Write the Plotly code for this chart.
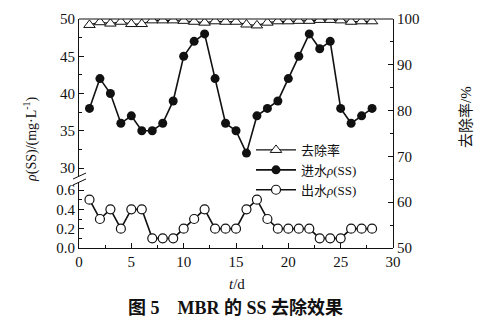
import plotly.graph_objects as go

# Day index
days = list(range(1, 29))

# Influent SS concentration (mg/L)
influent_ss = [38, 42, 40, 36, 37, 35, 35, 36, 39, 45, 47, 48, 42, 36,
               35, 32, 37, 38, 39, 42, 45, 48, 46, 47, 38, 36, 37, 38]

# Effluent SS concentration (mg/L)
effluent_ss = [0.5, 0.3, 0.4, 0.2, 0.4, 0.4, 0.1, 0.1, 0.1, 0.2, 0.3, 0.4, 0.2, 0.2,
               0.2, 0.4, 0.5, 0.3, 0.2, 0.2, 0.2, 0.2, 0.1, 0.1, 0.1, 0.2, 0.2, 0.2]

# SS removal rate (%)
removal_rate = [98.7, 99.3, 99.0, 99.4, 98.9, 98.9, 99.7, 99.7, 99.7, 99.6, 99.4, 99.2, 99.5, 99.4,
                99.4, 98.8, 98.6, 99.2, 99.5, 99.5, 99.6, 99.6, 99.8, 99.8, 99.7, 99.4, 99.5, 99.5]

W, H = 499, 323
L, R, T, B = 79, 106, 19, 75
PW, PH = W - L - R, H - T - B


def px(xp):
    return (xp - L) / PW


def py(yp):
    return (H - B - yp) / PH


SERIF = "Liberation Serif, Noto Sans CJK SC"
BLACK = "#111111"

fig = go.Figure()

fig.add_trace(go.Scatter(
    x=days, y=removal_rate, xaxis="x", yaxis="y3", name="去除率",
    mode="lines+markers",
    line=dict(color=BLACK, width=1.2),
    marker=dict(symbol="triangle-up", size=10, color="white",
                line=dict(color=BLACK, width=1)),
))
fig.add_trace(go.Scatter(
    x=days, y=influent_ss, xaxis="x", yaxis="y", name="进水<i>ρ</i>(SS)",
    mode="lines+markers",
    line=dict(color=BLACK, width=1.6),
    marker=dict(symbol="circle", size=9, color=BLACK),
))
fig.add_trace(go.Scatter(
    x=days, y=effluent_ss, xaxis="x", yaxis="y2", name="出水<i>ρ</i>(SS)",
    mode="lines+markers",
    line=dict(color=BLACK, width=1.6),
    marker=dict(symbol="circle", size=9, color="white",
                line=dict(color=BLACK, width=1.2)),
))

tickfont = dict(family=SERIF, size=15, color=BLACK)
axis_common = dict(
    showgrid=False, zeroline=False, showline=True, linecolor=BLACK, linewidth=1,
    ticks="inside", ticklen=5, tickcolor=BLACK, tickwidth=1, tickfont=tickfont,
)

upper_bottom = py(176)
lower_top = py(182)

fig.update_layout(
    width=W, height=H,
    margin=dict(l=L, r=R, t=T, b=B),
    paper_bgcolor="white", plot_bgcolor="rgba(0,0,0,0)",
    showlegend=True,
    legend=dict(
        x=px(251), y=py(135), xanchor="left", yanchor="top",
        bgcolor="rgba(0,0,0,0)", borderwidth=0,
        font=dict(family=SERIF, size=13, color=BLACK),
        tracegroupgap=0, itemwidth=40,
    ),
    xaxis=dict(
        **axis_common, range=[0, 30], tickvals=[0, 5, 10, 15, 20, 25, 30],
        minor=dict(ticks="inside", ticklen=3, tickcolor=BLACK, dtick=2.5),
        anchor="y2", domain=[0, 1],
    ),
    yaxis=dict(
        **axis_common, range=[30 - (176 - 168) / ((168 - 19) / 20), 50],
        tickvals=[30, 35, 40, 45, 50],
        minor=dict(ticks="inside", ticklen=3, tickcolor=BLACK, dtick=2.5),
        domain=[upper_bottom, 1], anchor="x",
    ),
    yaxis2=dict(
        **axis_common, range=[0, 0.6 * (248 - 182) / (248 - 190)],
        tickvals=[0.0, 0.2, 0.4, 0.6], tickformat=".1f",
        minor=dict(ticks="inside", ticklen=3, tickcolor=BLACK, dtick=0.1),
        domain=[0, lower_top], anchor="x",
    ),
    yaxis3=dict(
        **axis_common, range=[50, 100], tickvals=[50, 60, 70, 80, 90, 100],
        minor=dict(ticks="inside", ticklen=3, tickcolor=BLACK, dtick=5),
        domain=[0, 1], anchor="x", side="right",
    ),
)

# Frame top edge and axis-break marks
shapes = [
    dict(type="line", xref="paper", yref="paper", x0=0, x1=1, y0=1, y1=1,
         line=dict(color=BLACK, width=1)),
    dict(type="line", xref="paper", yref="paper",
         x0=px(73), y0=py(179), x1=px(86), y1=py(173), line=dict(color=BLACK, width=1)),
    dict(type="line", xref="paper", yref="paper",
         x0=px(73), y0=py(185), x1=px(86), y1=py(179), line=dict(color=BLACK, width=1)),
]
fig.update_layout(shapes=shapes)

annotations = [
    dict(text="<i>ρ</i>(SS)/(mg·L<sup>-1</sup>)", xref="paper", yref="paper",
         x=px(30), y=py(140), xanchor="center", yanchor="middle",
         textangle=-90, showarrow=False,
         font=dict(family=SERIF, size=14, color=BLACK)),
    dict(text="去除率/%", xref="paper", yref="paper",
         x=px(466), y=py(117), xanchor="center", yanchor="middle",
         textangle=-90, showarrow=False,
         font=dict(family=SERIF, size=15, color=BLACK)),
    dict(text="<i>t</i>/d", xref="paper", yref="paper",
         x=px(237), y=py(284), xanchor="center", yanchor="middle", showarrow=False,
         font=dict(family=SERIF, size=15, color=BLACK)),
    dict(text="<b>图 5　MBR 的 SS 去除效果</b>", xref="paper", yref="paper",
         x=px(235), y=py(307), xanchor="center", yanchor="middle", showarrow=False,
         font=dict(family=SERIF, size=18, color=BLACK)),
]
fig.update_layout(annotations=annotations)

fig.write_html("out.html")
